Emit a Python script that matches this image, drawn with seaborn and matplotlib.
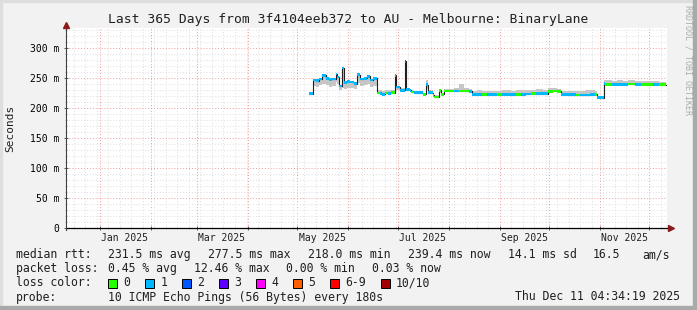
import numpy as np
import pandas as pd
import matplotlib
matplotlib.use("Agg")
import matplotlib.pyplot as plt
import matplotlib.dates as mdates
from matplotlib.ticker import MultipleLocator, NullFormatter
from matplotlib.patches import Rectangle
from matplotlib.transforms import blended_transform_factory
import seaborn as sns

# ---------------- data ----------------
title = "Last 365 Days from 3f4104eeb372 to AU - Melbourne: BinaryLane"
start_time = "2024-12-11 04:34:19"
end_time = "2025-12-11 04:34:19"

dates = [
    "2025-05-08", "2025-05-10", "2025-05-12", "2025-05-14", "2025-05-16", "2025-05-18",
    "2025-05-20", "2025-05-22", "2025-05-24", "2025-05-25", "2025-05-26", "2025-05-28",
    "2025-05-29", "2025-05-31", "2025-06-02", "2025-06-04", "2025-06-06", "2025-06-08",
    "2025-06-10", "2025-06-12", "2025-06-14", "2025-06-16", "2025-06-18", "2025-06-20",
    "2025-06-21", "2025-06-23", "2025-06-25", "2025-06-27", "2025-06-29", "2025-06-30",
    "2025-07-02", "2025-07-05", "2025-07-06", "2025-07-08", "2025-07-09", "2025-07-11",
    "2025-07-13", "2025-07-16", "2025-07-18", "2025-07-19", "2025-07-22", "2025-07-23",
    "2025-07-26", "2025-07-27", "2025-07-29", "2025-08-01", "2025-08-04", "2025-08-07",
    "2025-08-10", "2025-08-13", "2025-08-15", "2025-08-18", "2025-08-21", "2025-08-24",
    "2025-08-27", "2025-08-30", "2025-09-02", "2025-09-05", "2025-09-08", "2025-09-11",
    "2025-09-14", "2025-09-17", "2025-09-20", "2025-09-23", "2025-09-27", "2025-09-30",
    "2025-10-03", "2025-10-06", "2025-10-08", "2025-10-11", "2025-10-14", "2025-10-17",
    "2025-10-20", "2025-10-23", "2025-10-26", "2025-10-29", "2025-10-30", "2025-11-03",
    "2025-11-04", "2025-11-08", "2025-11-11", "2025-11-15", "2025-11-18", "2025-11-22",
    "2025-11-26", "2025-11-29", "2025-12-03", "2025-12-07", "2025-12-11",
]
median_ms = [
    224.5, 247, 246, 249, 255, 250,
    248, 249, 257, 252, 237, 267,
    243, 245, 244, 241, 256, 249,
    250, 253, 247, 250, 225.5, 225,
    223.5, 225.5, 225, 226, 255, 235.5,
    230, 278, 231, 230, 227, 226,
    226, 223, 239.5, 226, 221.5, 219,
    230, 223, 229, 229, 229, 229,
    229, 228.5, 223, 223.5, 223, 223.5,
    223, 223, 223.5, 223, 223, 223.5,
    223, 224, 224.5, 224.5, 224.5, 228,
    229, 228, 223, 223, 222.5, 222,
    222, 222, 223, 223, 217.5, 241,
    240, 240, 240, 240, 240.5, 240,
    240, 239.5, 240, 239.5, 239.4,
]
loss_class = [
    1, 1, 1, 1, 1, 1,
    1, 1, 1, 1, 1, 1,
    1, 1, 1, 1, 1, 1,
    1, 1, 1, 1, 0, 1,
    1, 0, 1, 0, 1, 1,
    1, 2, 1, 1, 0, 1,
    1, 0, 1, 1, 0, 0,
    0, 0, 0, 0, 1, 0,
    0, 1, 1, 1, 0, 1,
    1, 0, 1, 1, 1, 0,
    1, 1, 0, 1, 1, 0,
    0, 0, 1, 1, 1, 0,
    1, 1, 1, 0, 1, 1,
    0, 1, 1, 1, 0, 1,
    0, 0, 1, 0, 0,
]
smoke_lo = [
    223.5, 237, 236, 238, 241, 238,
    236, 237, 243, 240, 230, 234,
    232, 234, 233, 232, 242, 237,
    238, 240, 236, 237, 224.5, 224,
    222.5, 224.5, 224, 225, 234, 230,
    228, 230, 229, 228, 226, 225,
    225, 222, 232, 225, 220.5, 218,
    225, 222, 228, 228, 228, 228,
    228, 227.5, 222, 222.5, 222, 222.5,
    222, 222, 222.5, 222, 222, 222.5,
    222, 223, 223.5, 223.5, 223.5, 227,
    228, 227, 222, 222, 221.5, 221,
    221, 221, 222, 222, 216.5, 238,
    239, 239, 239, 239, 239.5, 239,
    239, 238.5, 239, 238.5, 238.4,
]
smoke_hi = [
    226, 249, 248, 251, 257, 252,
    250, 251, 259, 254, 239, 268,
    245, 247, 246, 243, 258, 251,
    252, 255, 249, 252, 231, 230,
    229, 230, 230, 231, 256, 237,
    233, 279, 234, 232, 230, 229,
    229, 226, 247, 230, 224, 222,
    232, 226, 232, 232, 233, 240,
    233, 232, 228, 230, 229, 229,
    228, 229, 230, 230, 229, 231,
    230, 231, 231, 232, 230, 233,
    233, 232, 228, 228, 229, 228,
    229, 230, 231, 228, 221, 247,
    247, 246, 247, 246, 247, 245,
    246, 245, 245, 244, 244,
]

y_ticks = [0, 50, 100, 150, 200, 250, 300]
y_tick_labels = ["0", "50 m", "100 m", "150 m", "200 m", "250 m", "300 m"]
x_label_dates = ["2025-01-16", "2025-03-16", "2025-05-16", "2025-07-16", "2025-09-16", "2025-11-16"]
x_labels = ["Jan 2025", "Mar 2025", "May 2025", "Jul 2025", "Sep 2025", "Nov 2025"]

loss_labels = ["0", "1", "2", "3", "4", "5", "6-9", "10/10"]
loss_colors = ["#26ff00", "#00b8ff", "#0059ff", "#5e00ff", "#ff00fe", "#ff5e00", "#ff0000", "#a00000"]

legend_rtt = [("median rtt:", 16), ("231.5 ms avg", 107.6), ("277.5 ms max", 207.5),
              ("218.0 ms min", 307.6), ("239.4 ms now", 407.6), ("14.1 ms sd", 508),
              ("16.5", 593), ("am/s", 642)]
legend_loss = [("packet loss:", 16), ("0.45 % avg", 107.6), ("12.46 % max", 194.2),
               ("0.00 % min", 285.8), ("0.03 % now", 372.4)]
probe_text = "10 ICMP Echo Pings (56 Bytes) every 180s"
stamp_text = "Thu Dec 11 04:34:19 2025"

# ---------------- figure ----------------
W, H = 697, 310
MONO = "DejaVu Sans Mono"
fig = plt.figure(figsize=(W / 100, H / 100), dpi=100, facecolor="#f2f2f2")


def fx(px):
    return px / W


def fy(py):
    return 1 - py / H


# frame shading
fig.patches.append(Rectangle((0, fy(2)), 1, 2 / H, transform=fig.transFigure, color="#dedede", zorder=0))
fig.patches.append(Rectangle((0, 0), 2 / W, 1, transform=fig.transFigure, color="#dedede", zorder=0))
fig.patches.append(Rectangle((0, 0), 1, 4 / H, transform=fig.transFigure, color="#a9a9a9", zorder=0))
fig.patches.append(Rectangle((fx(W - 4), 0), 4 / W, 1, transform=fig.transFigure, color="#a9a9a9", zorder=0))

ax = fig.add_axes([fx(66), fy(228.3), 601 / W, 200 / H])
ax.set_facecolor("white")
for s in ax.spines.values():
    s.set_visible(False)

df = pd.DataFrame({
    "date": pd.to_datetime(dates) + pd.Timedelta(hours=4),
    "median": np.array(median_ms),
    "loss": np.array(loss_class),
    "lo": np.array(smoke_lo),
    "hi": np.array(smoke_hi),
})

t0 = pd.Timestamp(start_time)
t1 = pd.Timestamp(end_time)

# smoke
ax.fill_between(df["date"], df["lo"], df["hi"], step="post", color="#c6c6c6", lw=0, zorder=2)

# median line
sns.lineplot(data=df, x="date", y="median", ax=ax, color="#202020", lw=0.8,
             drawstyle="steps-post", legend=False, zorder=3)

# loss colored bars around median
xnum = mdates.date2num(df["date"])
ends = np.append(xnum[1:], mdates.date2num(t1))
widths = ends - xnum
half = 2.2
ax.bar(xnum, 2 * half, bottom=df["median"] - half, width=widths, align="edge",
       color=[loss_colors[k] for k in df["loss"]], linewidth=0, zorder=4)

ax.set_xlim(mdates.date2num(t0), mdates.date2num(t1) + 0.6)
ax.set_ylim(0, 333.3)
ax.set_xlabel("")
ax.set_ylabel("")

# grid
ax.xaxis.set_major_locator(mdates.MonthLocator())
ax.xaxis.set_minor_locator(mdates.WeekdayLocator(byweekday=mdates.MO))
ax.xaxis.set_major_formatter(NullFormatter())
ax.xaxis.set_minor_formatter(NullFormatter())
ax.set_yticks(y_ticks)
ax.set_yticklabels(y_tick_labels, fontsize=7, family=MONO)
ax.yaxis.set_minor_locator(MultipleLocator(10))
ax.set_axisbelow(True)
ax.grid(which="minor", color="#dedede", linestyle=(0, (1, 2)), linewidth=0.7)
ax.grid(which="major", color="#f09a9a", linestyle=(0, (1, 2)), linewidth=0.7)
ax.tick_params(which="major", direction="inout", length=3, width=0.6, color="#404040", pad=3.2)
ax.tick_params(which="minor", direction="inout", length=1.5, width=0.5, color="#a0a0a0")

tr = blended_transform_factory(ax.transData, ax.transAxes)
for d, lab in zip(x_label_dates, x_labels):
    ax.text(mdates.date2num(pd.Timestamp(d)), -0.048, lab, transform=tr, ha="center", va="center",
            fontsize=7, family=MONO, color="#202020")

# axis lines with arrows
ax.plot([0, 1.006], [0, 0], transform=ax.transAxes, color="black", lw=0.9, clip_on=False, zorder=6)
ax.plot([0, 0], [-0.008, 1.015], transform=ax.transAxes, color="#404040", lw=0.8, clip_on=False, zorder=6)
ax.plot([1.007], [0], marker=">", ms=5, color="#8b1a1a", transform=ax.transAxes, clip_on=False, zorder=7)
ax.plot([0], [1.018], marker="^", ms=5, color="#8b1a1a", transform=ax.transAxes, clip_on=False, zorder=7)

# texts
fig.text(fx(347.7), fy(19), title, ha="center", va="center", fontsize=9.4, family=MONO, color="#202020")
fig.text(fx(10), fy(128), "Seconds", rotation=90, ha="center", va="center", fontsize=8, family=MONO,
         color="#202020")
fig.text(fx(688), fy(60), "RRDTOOL / TOBI OETIKER", rotation=270, ha="center", va="center",
         fontsize=6, family=MONO, color="#ababab")

LF = 8.3
for txt, px in legend_rtt:
    fig.text(fx(px), fy(254.5), txt, ha="left", va="center", fontsize=LF, family=MONO, color="#202020")
for txt, px in legend_loss:
    fig.text(fx(px), fy(268.5), txt, ha="left", va="center", fontsize=LF, family=MONO, color="#202020")

fig.text(fx(16), fy(283), "loss color:", ha="left", va="center", fontsize=LF, family=MONO, color="#202020")
box_x = [108, 145.3, 182, 219, 256.4, 293, 330, 381]
for bx, lab, col in zip(box_x, loss_labels, loss_colors):
    fig.patches.append(Rectangle((fx(bx), fy(287.5)), 8.5 / W, 9 / H, transform=fig.transFigure,
                                 facecolor=col, edgecolor="black", lw=0.7, zorder=3))
    fig.text(fx(bx + 15), fy(283), lab, ha="left", va="center", fontsize=LF, family=MONO, color="#202020")

fig.text(fx(16), fy(297), "probe:", ha="left", va="center", fontsize=LF, family=MONO, color="#202020")
fig.text(fx(107.6), fy(297), probe_text, ha="left", va="center", fontsize=LF, family=MONO, color="#202020")
fig.text(fx(680), fy(297), stamp_text, ha="right", va="center", fontsize=LF, family=MONO, color="#202020")

fig.savefig("out.png", dpi=100, facecolor=fig.get_facecolor())
